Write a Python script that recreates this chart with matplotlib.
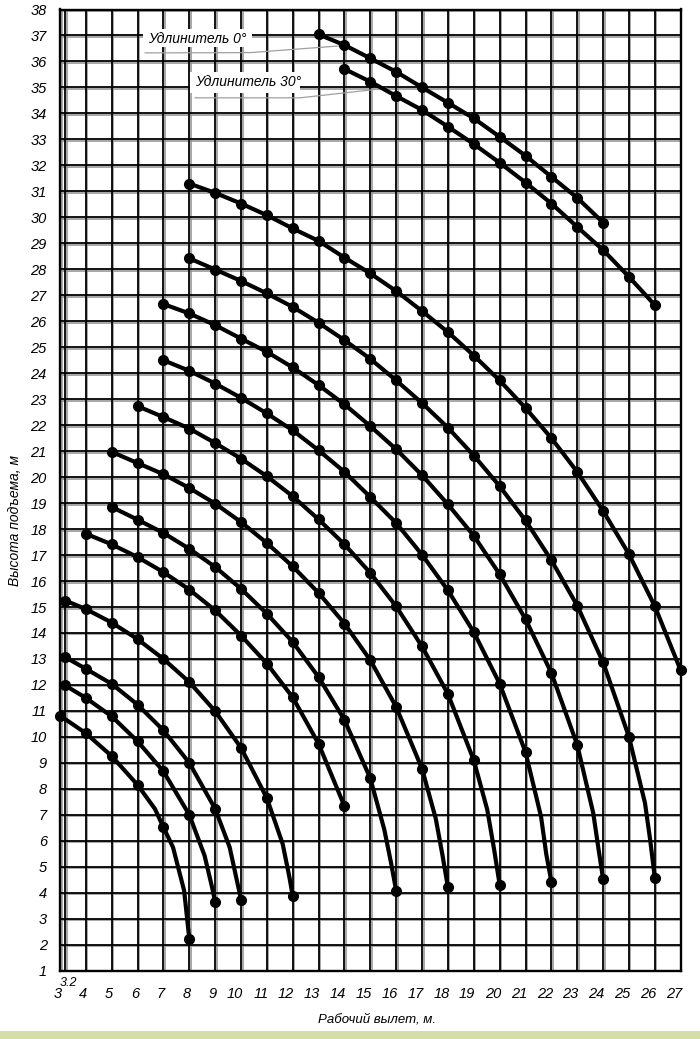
import matplotlib
matplotlib.use('Agg')
import matplotlib.pyplot as plt
from matplotlib.patches import Rectangle
import matplotlib.transforms as mtransforms

plt.rcParams['font.family'] = ['Liberation Sans', 'DejaVu Sans']

# ---------------- data ----------------
x_ticks = list(range(3, 28))
y_ticks = list(range(1, 39))
x_extra_line = 3.2
x_label = 'Рабочий вылет, м.'
y_label = 'Высота подъема, м'
label_0 = 'Удлинитель 0°'
label_30 = 'Удлинитель 30°'

# marker points (x, y) and unmarked bend points (bx, by) of each curve
A_x = [3, 4, 5, 6, 7, 8]
A_y = [10.82, 10.14, 9.26, 8.15, 6.52, 2.22]
A_bx = [6.67, 7.37, 7.8]
A_by = [7.23, 5.75, 4.08]

B_x = [3.2, 4, 5, 6, 7, 8, 9]
B_y = [11.98, 11.5, 10.79, 9.83, 8.67, 7.0, 3.66]
B_bx = [8.59, 8.88]
B_by = [5.43, 4.21]

C_x = [3.2, 4, 5, 6, 7, 8, 9, 10]
C_y = [13.07, 12.62, 12.04, 11.24, 10.25, 9.0, 7.23, 3.74]
C_bx = [9.56, 9.84]
C_by = [5.75, 4.47]

D_x = [3.2, 4, 5, 6, 7, 8, 9, 10, 11, 12]
D_y = [15.25, 14.92, 14.4, 13.76, 13.0, 12.11, 10.99, 9.58, 7.64, 3.87]
D_bx = [11.61, 11.87]
D_by = [5.88, 4.6]

E_x = [4, 5, 6, 7, 8, 9, 10, 11, 12, 13, 14]
E_y = [17.82, 17.41, 16.92, 16.34, 15.67, 14.87, 13.9, 12.82, 11.52, 9.73, 7.33]
E_bx = []
E_by = []

F_x = [5, 6, 7, 8, 9, 10, 11, 12, 13, 14, 15, 16]
F_y = [18.85, 18.36, 17.85, 17.24, 16.54, 15.7, 14.74, 13.65, 12.3, 10.65, 8.4, 4.07]
F_bx = [15.54, 15.8]
F_by = [6.43, 5.15]

G_x = [5, 6, 7, 8, 9, 10, 11, 12, 13, 14, 15, 16, 17, 18]
G_y = [20.97, 20.54, 20.11, 19.58, 18.98, 18.27, 17.46, 16.56, 15.54, 14.36,
       12.95, 11.15, 8.77, 4.21]
G_bx = [17.53, 17.79]
G_by = [6.85, 5.44]

H_x = [6, 7, 8, 9, 10, 11, 12, 13, 14, 15, 16, 17, 18, 19, 20]
H_y = [22.73, 22.31, 21.87, 21.31, 20.71, 20.03, 19.26, 18.37, 17.41, 16.31,
       15.02, 13.48, 11.65, 9.1, 4.31]
H_bx = [19.52, 19.78]
H_by = [7.2, 5.7]

I_x = [7, 8, 9, 10, 11, 12, 13, 14, 15, 16, 17, 18, 19, 20, 21, 22]
I_y = [24.5, 24.09, 23.6, 23.05, 22.45, 21.8, 21.03, 20.2, 19.23, 18.23,
       17.01, 15.64, 14.03, 12.05, 9.41, 4.42]
I_bx = [21.6, 21.8]
I_by = [6.93, 5.5]

J_x = [7, 8, 9, 10, 11, 12, 13, 14, 15, 16, 17, 18, 19, 20, 21, 22, 23, 24]
J_y = [26.66, 26.3, 25.85, 25.33, 24.82, 24.22, 23.54, 22.8, 21.96, 21.07,
       20.07, 18.95, 17.74, 16.26, 14.53, 12.46, 9.69, 4.53]
J_bx = [23.62, 23.82]
J_by = [7.06, 5.7]

K_x = [8, 9, 10, 11, 12, 13, 14, 15, 16, 17, 18, 19, 20, 21, 22, 23, 24, 25, 26]
K_y = [28.42, 27.99, 27.55, 27.07, 26.55, 25.94, 25.27, 24.55, 23.72, 22.85,
       21.9, 20.83, 19.65, 18.33, 16.8, 15.05, 12.87, 10.0, 4.57]
K_bx = [25.62, 25.82]
K_by = [7.45, 6.03]

L_x = [8, 9, 10, 11, 12, 13, 14, 15, 16, 17, 18, 19, 20, 21, 22, 23, 24, 25, 26, 27]
L_y = [31.3, 30.94, 30.53, 30.08, 29.57, 29.09, 28.45, 27.84, 27.16, 26.39,
       25.58, 24.68, 23.72, 22.66, 21.5, 20.2, 18.7, 17.03, 15.03, 12.56]
L_bx = []
L_by = []

M_x = [13, 14, 15, 16, 17, 18, 19, 20, 21, 22, 23, 24]          # Удлинитель 0°
M_y = [37.04, 36.63, 36.12, 35.6, 35.0, 34.41, 33.81, 33.1, 32.37, 31.56, 30.75, 29.8]
M_bx = []
M_by = []

N_x = [14, 15, 16, 17, 18, 19, 20, 21, 22, 23, 24, 25, 26]      # Удлинитель 30°
N_y = [35.71, 35.22, 34.67, 34.13, 33.49, 32.82, 32.1, 31.34, 30.53, 29.63,
       28.74, 27.71, 26.62]
N_bx = []
N_by = []

curves = [
    (A_x, A_y, A_bx, A_by), (B_x, B_y, B_bx, B_by), (C_x, C_y, C_bx, C_by),
    (D_x, D_y, D_bx, D_by), (E_x, E_y, E_bx, E_by), (F_x, F_y, F_bx, F_by),
    (G_x, G_y, G_bx, G_by), (H_x, H_y, H_bx, H_by), (I_x, I_y, I_bx, I_by),
    (J_x, J_y, J_bx, J_by), (K_x, K_y, K_bx, K_by), (L_x, L_y, L_bx, L_by),
    (M_x, M_y, M_bx, M_by), (N_x, N_y, N_bx, N_by),
]

# leader lines of the two labels
lead0_x = [6.29, 10.35, 13.83]
lead0_y = [36.33, 36.34, 36.6]
lead30_x = [8.22, 12.28, 15.63]
lead30_y = [34.6, 34.6, 34.97]

# ---------------- figure ----------------
W, H = 700, 1039
fig = plt.figure(figsize=(W / 100, H / 100), dpi=100)
fig.patch.set_facecolor('white')
ax = fig.add_axes([60 / W, (H - 970.7) / H, 620.7 / W, 961.2 / H])
ax.set_xlim(3, 27)
ax.set_ylim(1, 38)

# green band at the bottom
fig.patches.append(Rectangle((0, 0), 1, 8.5 / H, transform=fig.transFigure,
                             facecolor='#d5dea9', edgecolor='none', zorder=0))

# grid: black lines with a grey shadow line beside them
sh_x = 1.5 / 25.86
sh_y = 1.5 / 25.98
vlines = [x_extra_line] + x_ticks
for xv in vlines:
    ax.axvline(xv + sh_x, color='#909090', lw=1.1, zorder=1)
    ax.axvline(xv, color='black', lw=1.3, zorder=1.1)
for yv in y_ticks:
    ax.axhline(yv - sh_y, color='#909090', lw=1.1, zorder=1)
    ax.axhline(yv, color='black', lw=1.3, zorder=1.1)

for s in ax.spines.values():
    s.set_linewidth(1.7)
    s.set_color('black')
    s.set_zorder(6)

# white boxes behind the labels
ax.add_patch(Rectangle((6.21, 36.56), 4.21, 0.69, facecolor='white',
                       edgecolor='none', zorder=2))
ax.add_patch(Rectangle((8.03, 34.79), 4.25, 0.8, facecolor='white',
                       edgecolor='none', zorder=2))
ax.plot(lead0_x, lead0_y, color='#a0a0a0', lw=0.9, zorder=3)
ax.plot(lead30_x, lead30_y, color='#a0a0a0', lw=0.9, zorder=3)
ax.text(6.4, 36.86, label_0, fontsize=10, style='italic', ha='left',
        va='center', zorder=4)
ax.text(8.22, 35.21, label_30, fontsize=10, style='italic', ha='left',
        va='center', zorder=4)

# curves
for cx, cy, bx, by in curves:
    pts = sorted(zip(list(cx) + list(bx), list(cy) + list(by)))
    px = [p[0] for p in pts]
    py = [p[1] for p in pts]
    ax.plot(px, py, color='black', lw=3.0, solid_capstyle='round',
            solid_joinstyle='round', zorder=5, clip_on=False)
    ax.plot(cx, cy, 'o', color='black', ms=7, zorder=5.5, clip_on=False)

# ticks
ax.set_xticks(x_ticks)
ax.set_yticks(y_ticks)
ax.set_xticklabels([str(v) for v in x_ticks])
ax.set_yticklabels([str(v) for v in y_ticks])
ax.tick_params(axis='both', length=0, labelsize=10.5)
ax.tick_params(axis='x', pad=12)
ax.tick_params(axis='y', pad=9.5)
offset = mtransforms.ScaledTranslation(1.5 / 100, 0, fig.dpi_scale_trans)
for lab in ax.get_xticklabels():
    lab.set_horizontalalignment('right')
    lab.set_style('italic')
    lab.set_transform(lab.get_transform() + offset)
for lab in ax.get_yticklabels():
    lab.set_style('italic')

# the extra "3.2" label
ax.annotate('3.2', xy=(3.33, 1), xycoords='data', xytext=(0, -4.5),
            textcoords='offset points', ha='center', va='top', fontsize=9,
            style='italic', annotation_clip=False)

fig.text(377 / W, 1 - 1020 / H, x_label, fontsize=9.5, style='italic',
         ha='center', va='center')
fig.text(15 / W, 1 - 520 / H, y_label, fontsize=10, style='italic',
         rotation=90, ha='center', va='center')

fig.savefig('out.png', dpi=100, facecolor='white')
